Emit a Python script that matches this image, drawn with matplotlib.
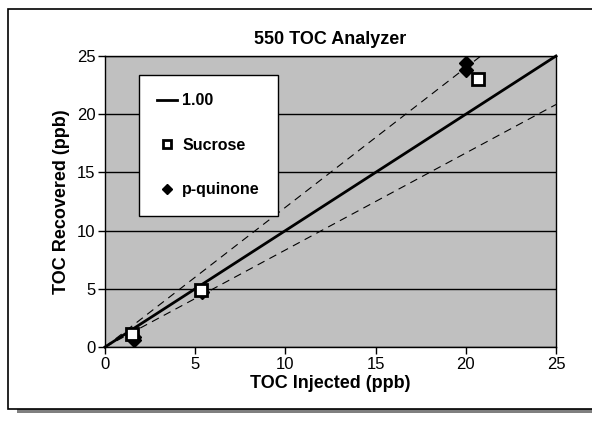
import matplotlib
matplotlib.use("Agg")
from matplotlib import pyplot as plt
from matplotlib.patches import Rectangle
import numpy as np

plt.rcParams['font.family'] = ['Liberation Sans', 'DejaVu Sans']

#Data
line_x = [0, 25]
line_y = [0, 25]
upper_slope = 1.2
lower_slope = 1 / 1.2
sucrose_x = [1.5, 5.3, 20.7]
sucrose_y = [1.1, 4.9, 23.0]
quinone_x = [1.6, 1.6, 5.4, 20.0, 20.0]
quinone_y = [0.6, 0.9, 4.7, 23.8, 24.4]
ticks = [0, 5, 10, 15, 20, 25]

fig = plt.figure(figsize=(5.92, 4.21), dpi=100)

#Outer frame with shadow, kept behind the axes
W, H = 592, 421
fig.patches.append(Rectangle((17 / W, 1 - 413 / H), 1, 4 / H, transform=fig.transFigure,
                             facecolor='#808080', edgecolor='none', zorder=-2))
fig.patches.append(Rectangle((8 / W, 1 - 409 / H), 1, 400 / H, transform=fig.transFigure,
                             facecolor='white', edgecolor='black', lw=1.2, zorder=-1))

ax = fig.add_axes([105 / W, 1 - 347 / H, 451 / W, 291 / H])
ax.set_zorder(1)
ax.set_facecolor('#c0c0c0')
ax.set_xlim(0, 25)
ax.set_ylim(0, 25)
ax.set_xticks(ticks)
ax.set_yticks(ticks)
ax.tick_params(direction='out', length=5, width=1, labelsize=12, pad=2)
for s in ax.spines.values():
    s.set_linewidth(1)
ax.grid(axis='y', color='black', lw=1)
ax.set_axisbelow(True)

#Reference lines
xs = np.array([0, 25])
ax.plot(xs, upper_slope * xs, color='black', lw=0.8, ls=(0, (7, 5)))
ax.plot(xs, lower_slope * xs, color='black', lw=0.8, ls=(0, (7, 5)))
ax.plot(line_x, line_y, color='black', lw=2, label='1.00', clip_on=False)

ax.plot(quinone_x, quinone_y, ls='none', marker='D', ms=7, color='black', label='p-quinone', zorder=4)
ax.plot(sucrose_x, sucrose_y, ls='none', marker='s', ms=8, mfc='white', mec='black', mew=2,
        label='Sucrose', zorder=5)

handles, labels = ax.get_legend_handles_labels()
order = [0, 2, 1]
leg = ax.legend([handles[i] for i in order], [labels[i] for i in order],
                loc='upper left', bbox_to_anchor=(34 / 451, 1 - 19 / 291), borderaxespad=0,
                frameon=True, fancybox=False, framealpha=1, edgecolor='black',
                handlelength=1.2, handletextpad=0.35, labelspacing=1.85, borderpad=1.15,
                prop={'weight': 'bold', 'size': 11.5}, markerscale=0.8)
leg.get_frame().set_linewidth(1)

ax.set_title('550 TOC Analyzer', fontsize=13, fontweight='bold', pad=9)
ax.set_xlabel('TOC Injected (ppb)', fontsize=13, fontweight='bold', labelpad=2)
ax.set_ylabel('TOC Recovered (ppb)', fontsize=13, fontweight='bold', labelpad=5)

fig.savefig('out.png', dpi=100)
